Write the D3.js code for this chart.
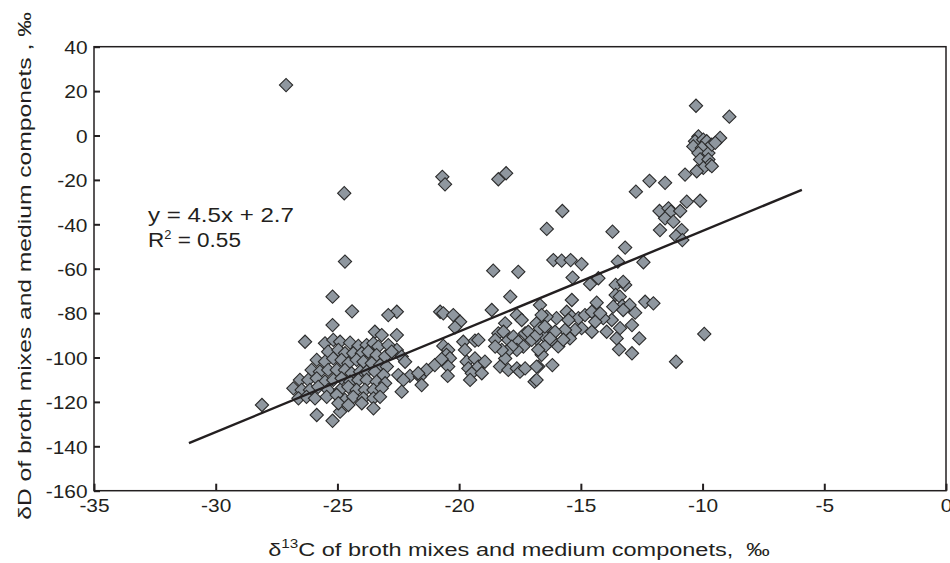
<!DOCTYPE html>
<html>
<head>
<meta charset="utf-8">
<script src="https://cdn.jsdelivr.net/npm/d3@7"></script>
<style>
  html, body { margin: 0; padding: 0; background: #fff; }
  svg { display: block; font-family: "Liberation Sans", Arial, Helvetica, sans-serif; }
</style>
</head>
<body>
<svg id="chart" width="950" height="563"></svg>
<script>
// ---- data ----
const xTicks = [-35, -30, -25, -20, -15, -10, -5, 0];
const yTicks = [40, 20, 0, -20, -40, -60, -80, -100, -120, -140, -160];

// δ13C (x) and δD (y) of samples
const deltaC13 = [
  -27.11, -24.72, -24.69, -25.2, -24.4, -25.2, -26.33, -28.1, -25.85, -25.2, -24.89,
  -20.69, -20.58, -18.39, -18.07, -15.76, -16.4, -18.6, -17.57, -17.9,
  -16.13, -15.79, -15.42, -14.97, -15.34, -14.62, -14.28,
  -13.7, -13.18, -13.48, -12.43, -13.57, -13.18, -13.26, -13.57, -13.4,
  -12.74, -12.18, -11.54,
  -11.77, -11.4, -11.3, -10.92, -11.54, -11.2, -11.75, -10.86, -11.09, -10.83, -10.65, -10.1,
  -10.27, -8.9, -10.17, -10.31, -10.38, -9.97, -9.83, -10.03, -10.17, -9.76, -9.62, -9.28, -9.48, -10.1, -9.76, -9.69, -9.97, -10.24, -10.72, -9.62,
  -12.36, -12.02, -12.77, -12.6, -9.93, -11.09,
  -13.3, -13.0, -13.67,
  -15.37, -14.35, -16.68, -16.9, -16.75, -16.17, -12.9, -13.43,
  -13.53, -13.94, -13.73, -14.08, -13.39, -12.9, -13.26,
  -14.55, -14.97, -15.24, -15.45, -15.65, -15.93, -16.2, -16.48, -16.61, -16.75, -16.82, -16.34, -16.0, -16.41,
  -16.61, -16.82, -15.58, -15.38, -15.1, -14.83, -14.55, -14.41, -14.21, -15.51, -16.06, -16.54, -16.27, -15.72,
  -18.66, -22.56, -22.91, -20.78, -20.65, -20.24, -19.96, -20.17, -17.63, -17.43, -18.11, -16.61,
  -22.56, -22.56, -22.36, -22.22, -22.5, -22.02, -22.29, -22.36,
  -21.61, -21.54, -21.34, -21.0, -20.65, -20.45, -20.52, -20.38, -20.72, -20.45, -19.83, -19.76, -19.35, -19.21, -20.47,
  -19.69, -19.62, -19.48, -19.55, -19.35, -19.21, -18.94, -19.07,
  -18.39, -18.52, -18.18, -17.98, -17.77, -17.57, -17.29, -17.16, -17.02, -16.82, -16.68, -16.48, -17.36,
  -17.63, -17.84, -18.04, -18.11, -18.32, -17.98, -17.63, -17.5, -17.29, -16.82, -16.82, -18.25, -18.52,
  -21.68,
  -25.51, -25.17, -24.89, -24.48, -24.14, -23.8, -23.46, -23.18, -23.52, -23.32, -22.91,
  -25.38, -24.96, -24.69, -24.35, -24.0, -23.73, -23.39, -23.04, -22.77,
  -25.85, -25.51, -25.17, -24.83, -24.55, -24.21, -23.93, -23.59, -23.25, -22.97,
  -26.06, -25.72, -25.38, -25.03, -24.69, -24.42, -24.07, -23.8, -23.46, -23.11,
  -26.54, -26.2, -25.85, -25.51, -25.17, -24.83, -24.48, -24.14, -23.8, -23.39, -23.04,
  -26.81, -26.47, -26.13, -25.79, -25.38, -24.89, -24.55, -24.21, -23.87, -23.52, -23.18,
  -26.6, -26.27, -25.92, -25.44, -25.03, -24.69, -24.35, -23.93, -23.52, -23.25,
  -24.96, -24.55, -24.0, -23.52
];
const deltaD = [
  22.7, -26.0, -56.8, -72.6, -79.2, -85.4, -92.9, -121.4, -125.9, -128.5, -124.4,
  -18.6, -22.0, -19.7, -17.0, -34.0, -42.1, -60.9, -61.4, -72.6,
  -56.1, -56.4, -56.1, -57.9, -64.0, -66.9, -64.3,
  -43.3, -50.5, -56.8, -57.1, -67.3, -67.3, -65.9, -71.8, -72.6,
  -25.3, -20.4, -21.3,
  -34.0, -32.8, -34.3, -34.0, -37.3, -38.8, -42.6, -42.6, -45.3, -47.1, -29.8, -29.4,
  13.4, 8.5, -0.4, -2.6, -4.9, -1.9, -2.6, -5.6, -7.9, -7.9, -4.1, -1.1, -3.3, -10.8, -10.8, -13.1, -14.6, -16.1, -17.6, -13.8,
  -74.9, -75.6, -79.8, -91.4, -89.4, -101.9,
  -76.8, -76.3, -77.1,
  -74.1, -75.3, -76.4, -110.9, -104.1, -103.4, -98.1, -96.3,
  -91.4, -88.4, -83.1, -82.3, -86.8, -85.4, -78.6,
  -88.4, -86.8, -87.6, -91.4, -87.6, -95.0, -92.0, -95.0, -98.8, -96.5, -91.4, -87.6, -82.3, -81.6,
  -85.4, -84.6, -79.4, -81.6, -82.3, -80.9, -79.4, -83.9, -80.1, -83.1, -88.4, -89.9, -91.4, -92.0,
  -78.6, -79.4, -80.9, -79.4, -80.1, -80.9, -83.9, -86.4, -80.9, -83.1, -84.6, -80.9,
  -89.9, -96.6, -99.6, -101.9, -107.9, -108.3, -110.1, -115.4,
  -108.7, -112.4, -105.6, -103.4, -94.8, -96.6, -98.8, -100.3, -100.7, -104.1, -92.9, -96.6, -92.4, -92.1, -108.3,
  -101.9, -104.9, -107.1, -110.1, -100.4, -104.1, -101.9, -107.1,
  -89.1, -92.1, -88.4, -92.1, -90.6, -92.9, -89.1, -88.4, -92.1, -89.9, -86.9, -86.1, -95.1,
  -96.6, -95.1, -97.4, -100.4, -104.1, -105.6, -104.9, -106.4, -104.9, -104.1, -110.1, -96.6, -95.1,
  -107.1,
  -93.6, -92.1, -92.9, -93.3, -94.8, -94.4, -88.4, -89.9, -93.6, -95.1, -94.4,
  -97.4, -96.6, -98.1, -98.1, -98.1, -97.4, -98.9, -99.6, -97.4,
  -101.1, -101.9, -100.4, -101.1, -102.6, -101.1, -101.9, -102.6, -103.4, -104.1,
  -105.6, -106.4, -105.6, -105.6, -105.6, -107.1, -106.4, -106.4, -106.4, -107.9,
  -110.1, -110.1, -109.4, -110.9, -110.1, -109.4, -110.9, -110.1, -110.1, -110.9, -111.6,
  -113.9, -114.6, -114.6, -113.2, -114.6, -114.6, -113.2, -114.6, -114.6, -114.6, -113.9,
  -118.4, -117.7, -118.4, -117.7, -116.9, -119.1, -117.7, -118.4, -118.4, -117.7,
  -120.6, -121.4, -120.6, -122.9
];

// trend line end points (as drawn in the figure)
const trendX = [-31.1, -5.92];
const trendY = [-138.6, -24.5];

const equationLines = ["y = 4.5x + 2.7", "R", "2", " = 0.55"];

// ---- layout ----
const W = 950, H = 563;
const margin = { left: 94, right: 4, top: 46.7, bottom: 72.3 };
const svg = d3.select("#chart");
const x = d3.scaleLinear().domain([-35, 0]).range([margin.left, W - margin.right]);
const y = d3.scaleLinear().domain([-160, 40]).range([H - margin.bottom, margin.top]);

const ink = "#231f20";

// horizontally stretch a text element to a target width, anchored by its text-anchor
function stretchTo(textSel, targetWidth, ax, ay, rotate) {
  const w = textSel.node().getComputedTextLength();
  const k = targetWidth / w;
  textSel.attr("x", 0).attr("y", 0)
    .attr("transform", `translate(${ax},${ay})${rotate ? ` rotate(${rotate})` : ""} scale(${k},1)`);
}

// frame
svg.append("rect")
  .attr("x", x(-35)).attr("y", y(40))
  .attr("width", x(0) - x(-35)).attr("height", y(-160) - y(40))
  .attr("fill", "none").attr("stroke", ink).attr("stroke-width", 1.5);

// axes
const tickK = 1.1;
const gx = svg.append("g")
  .attr("transform", `translate(0,${y(-160)})`)
  .call(d3.axisBottom(x).tickValues(xTicks).tickFormat(d3.format("d"))
    .tickSizeInner(-7).tickSizeOuter(0).tickPadding(8));
const gy = svg.append("g")
  .attr("transform", `translate(${x(-35)},0)`)
  .call(d3.axisLeft(y).tickValues(yTicks).tickFormat(d3.format("d"))
    .tickSizeInner(-6).tickSizeOuter(0).tickPadding(6.5));

[gx, gy].forEach(g => {
  g.select(".domain").remove();
  g.selectAll(".tick line").attr("stroke", ink).attr("stroke-width", 2);
  g.selectAll(".tick text")
    .attr("fill", ink)
    .style("font-size", "19px")
    .style("font-family", '"Liberation Sans", Arial, Helvetica, sans-serif')
    .text(d => String(d).replace("\u2212", "-"))
    .attr("transform", `scale(${tickK},1)`);
});
gy.selectAll(".tick text").attr("dy", "0.36em").attr("x", -6.5 / tickK);

// points
const pts = deltaC13.map((v, i) => ({ c: v, d: deltaD[i] }));
const diamond = d3.symbol().type(d3.symbolSquare).size(88);
svg.append("g")
  .selectAll("path")
  .data(pts)
  .join("path")
  .attr("d", diamond)
  .attr("transform", p => `translate(${x(p.c)},${y(p.d)}) rotate(45)`)
  .attr("fill", "#8f979f")
  .attr("stroke", "#2b2b2b")
  .attr("stroke-width", 1.1);

// trend line
const line = d3.line().x(d => x(d[0])).y(d => y(d[1]));
svg.append("path")
  .datum(trendX.map((v, i) => [v, trendY[i]]))
  .attr("d", line)
  .attr("fill", "none")
  .attr("stroke", ink)
  .attr("stroke-width", 2.4);

// equation
const eq = svg.append("g").attr("fill", ink).style("font-size", "21px");
const eq1 = eq.append("text").text(equationLines[0]);
stretchTo(eq1, 146, 148, 221.5);
const r2 = eq.append("text");
r2.append("tspan").text(equationLines[1]);
r2.append("tspan").attr("dy", -8).style("font-size", "12px").text(equationLines[2]);
r2.append("tspan").attr("dy", 8).text(equationLines[3]);
stretchTo(r2, 93, 148, 246.5);

// x title
const xt = svg.append("text")
  .attr("text-anchor", "middle").attr("fill", ink)
  .style("font-size", "18.5px");
xt.append("tspan").text("δ");
xt.append("tspan").attr("dy", -8).style("font-size", "12px").text("13");
xt.append("tspan").attr("dy", 8).text("C of broth mixes and medium componets,\u00a0\u00a0‰");
stretchTo(xt, 502, 519, 556);

// y title
const yt = svg.append("text")
  .attr("text-anchor", "middle").attr("fill", ink)
  .style("font-size", "18.5px")
  .text("δD of broth mixes and medium componets , ‰");
stretchTo(yt, 508, 31, 266, -90);
</script>
</body>
</html>
